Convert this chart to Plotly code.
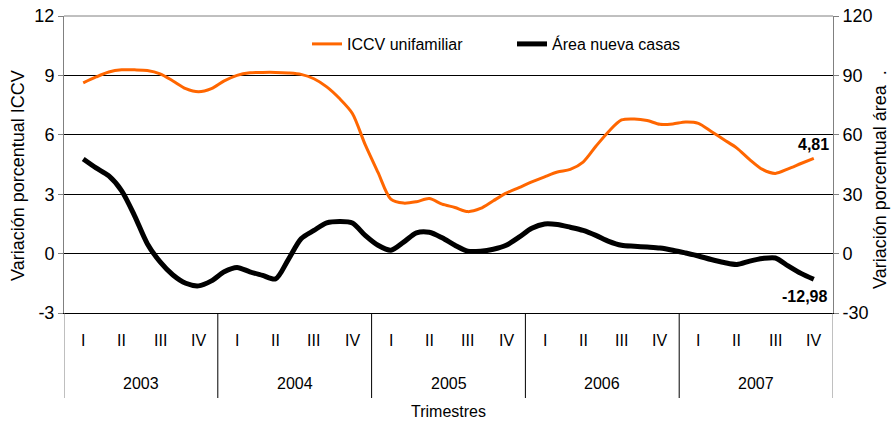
import plotly.graph_objects as go

# ---- data (monthly rolling quarterly variation, Feb-2003 .. Nov-2007) ----
years = ["2003", "2004", "2005", "2006", "2007"]
quarters = ["I", "II", "III", "IV"]

iccv_unifamiliar = [
    8.62, 8.92, 9.17, 9.28, 9.28, 9.25, 9.08, 8.72, 8.33, 8.17,
    8.33, 8.72, 9.00, 9.13, 9.15, 9.15, 9.12, 9.05, 8.83, 8.42,
    7.83, 7.08, 5.50, 4.10, 2.75, 2.55, 2.62, 2.78, 2.50, 2.33,
    2.12, 2.28, 2.67, 3.05, 3.33, 3.62, 3.88, 4.12, 4.25, 4.62,
    5.42, 6.17, 6.75, 6.80, 6.72, 6.53, 6.55, 6.65, 6.58, 6.17,
    5.75, 5.33, 4.75, 4.25, 4.05, 4.28, 4.55, 4.81,
]

area_nueva_casas = [
    47.8, 43.3, 39.2, 31.7, 19.2, 5.0, -4.2, -10.8, -15.0, -16.3,
    -13.8, -9.2, -7.0, -9.2, -11.0, -12.8, -3.0, 7.5, 11.7, 15.5,
    16.2, 15.5, 9.2, 4.2, 1.7, 5.8, 10.5, 10.8, 8.0, 4.2,
    1.2, 1.2, 2.2, 4.2, 8.3, 12.8, 15.0, 14.7, 13.3, 11.7,
    9.2, 6.2, 4.2, 3.7, 3.3, 2.8, 1.7, 0.3, -1.2, -3.0,
    -4.5, -5.5, -3.8, -2.5, -2.2, -6.2, -10.0, -12.98,
]

left_ticks = [-3, 0, 3, 6, 9, 12]
left_tick_labels = ["-3", "0", "3", "6", "9", "12"]
right_ticks = [-30, 0, 30, 60, 90, 120]
right_tick_labels = ["-30", "0", "30", "60", "90", "120"]

months_per_quarter = 3
n_months = len(years) * len(quarters) * months_per_quarter  # 60 month slots
first_month = 1  # series starts at the 2nd month slot (middle of Q1 2003)
x_months = [first_month + i + 0.5 for i in range(len(iccv_unifamiliar))]

ORANGE = "#FF6600"
FONT = "Liberation Sans, Arial, sans-serif"

ML, MR, MT, MB = 64, 62, 16, 112
W, H = 895, 425
plot_w = W - ML - MR
plot_h = H - MT - MB

fig = go.Figure()
fig.add_trace(go.Scatter(
    x=x_months, y=iccv_unifamiliar, name="ICCV unifamiliar",
    mode="lines", line=dict(color=ORANGE, width=3, shape="spline", smoothing=0.8),
))
fig.add_trace(go.Scatter(
    x=x_months, y=area_nueva_casas, name="Área nueva casas", yaxis="y2",
    mode="lines", line=dict(color="black", width=5, shape="spline", smoothing=0.8),
))

annotations = []
# quarter labels
for yi, yr in enumerate(years):
    for qi, q in enumerate(quarters):
        annotations.append(dict(
            x=(yi * 4 + qi) * months_per_quarter + 1.5, xref="x",
            y=-27 / plot_h, yref="paper", text=q, showarrow=False,
            font=dict(size=16, color="black"), yanchor="middle",
        ))
    annotations.append(dict(
        x=yi * 12 + 6, xref="x", y=-70 / plot_h, yref="paper", text=yr,
        showarrow=False, font=dict(size=16, color="black"), yanchor="middle",
    ))
annotations.append(dict(
    x=0.5, xref="paper", y=-98 / plot_h, yref="paper", text="Trimestres",
    showarrow=False, font=dict(size=16, color="black"), yanchor="middle",
))
# axis titles
annotations.append(dict(
    x=(18 - ML) / plot_w, xref="paper", y=(313 - 176) / plot_h, yref="paper",
    text="Variación porcentual ICCV", textangle=-90, showarrow=False,
    font=dict(size=18, color="black"), xanchor="center", yanchor="middle",
))
annotations.append(dict(
    x=(880 - ML) / plot_w, xref="paper", y=(313 - 180) / plot_h, yref="paper",
    text="Variación porcentual área  .", textangle=-90, showarrow=False,
    font=dict(size=18, color="black"), xanchor="center", yanchor="middle",
))
# end-point data labels
annotations.append(dict(
    x=x_months[-1], y=iccv_unifamiliar[-1], xref="x", yref="y",
    text="<b>" + f"{iccv_unifamiliar[-1]:.2f}".replace(".", ",") + "</b>",
    showarrow=False, yshift=14, font=dict(size=16, color="black"),
))
annotations.append(dict(
    x=x_months[-1], y=area_nueva_casas[-1], xref="x", yref="y2",
    text="<b>" + f"{area_nueva_casas[-1]:.2f}".replace(".", ",") + "</b>",
    showarrow=False, yshift=-17, xshift=-9, font=dict(size=16, color="black"),
))

shapes = []
# year dividers below the plot
for k in range(len(years) + 1):
    edge = k in (0, len(years))
    shapes.append(dict(
        type="line", xref="x", yref="paper",
        x0=k * 12, x1=k * 12, y0=0, y1=-85 / plot_h,
        line=dict(color="#808080" if edge else "black", width=1),
    ))
# top border
shapes.append(dict(type="line", xref="paper", yref="paper", x0=0, x1=1, y0=1, y1=1,
                   line=dict(color="#808080", width=1)))

fig.update_layout(
    width=W, height=H,
    margin=dict(l=ML, r=MR, t=MT, b=MB, autoexpand=False),
    paper_bgcolor="white", plot_bgcolor="white",
    font=dict(family=FONT, size=16, color="black"),
    showlegend=True,
    legend=dict(
        orientation="h", x=(307 - ML) / plot_w, xanchor="left", y=(313 - 44) / plot_h,
        yanchor="middle", bgcolor="rgba(0,0,0,0)", font=dict(size=16),
        entrywidth=160, itemwidth=30,
    ),
    xaxis=dict(
        range=[0, n_months], showticklabels=False, ticks="", showgrid=False,
        zeroline=False, showline=True, linecolor="black", linewidth=1,
        fixedrange=True, automargin=False,
    ),
    yaxis=dict(
        range=[-3, 12], tickvals=left_ticks, ticktext=left_tick_labels,
        showgrid=True, gridcolor="black", gridwidth=1,
        zeroline=False, showline=True, linecolor="#808080", linewidth=1,
        ticks="outside", ticklen=5, tickcolor="#808080", tickfont=dict(size=18),
        automargin=False,
    ),
    yaxis2=dict(
        range=[-30, 120], tickvals=right_ticks, ticktext=right_tick_labels,
        overlaying="y", side="right",
        showgrid=False, zeroline=False, showline=True, linecolor="#808080", linewidth=1,
        ticks="outside", ticklen=5, tickcolor="#808080", tickfont=dict(size=18),
        automargin=False,
    ),
    annotations=annotations,
    shapes=shapes,
)

fig.write_html(
    "out.html",
    config={"displayModeBar": False},
    post_script="document.body.style.margin='0px';",
)
